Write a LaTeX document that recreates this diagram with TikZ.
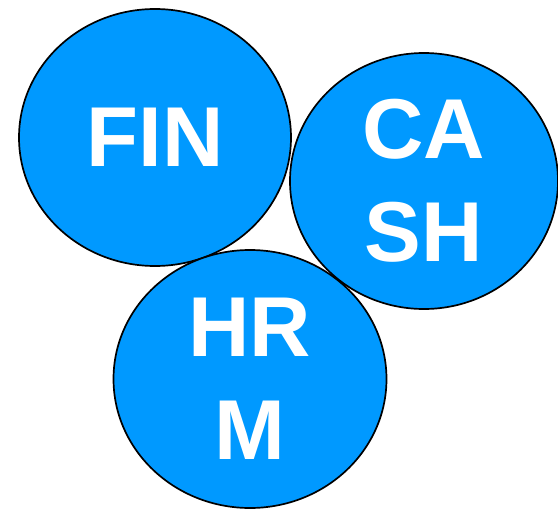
\documentclass[tikz,border=0pt]{standalone}
\usepackage{fontspec}
\setmainfont{Liberation Sans}
\usetikzlibrary{shapes.geometric}
\definecolor{unitblue}{RGB}{0,153,255}
\tikzset{
	unit/.style={draw=black, line width=1.7pt, fill=unitblue, ellipse, inner sep=0pt,
		text=white, align=center, font=\bfseries\fontsize{85}{103}\selectfont}
}
\begin{document}
\begin{tikzpicture}[x=1pt,y=-1pt]
		\useasboundingbox (0,0) rectangle (558,509);
		\node [unit, minimum width=272pt, minimum height=257pt] (FIN) at (155,137.5) {FIN};
		\node [unit, minimum width=268pt, minimum height=256pt] (CASH) at (424,181) {CA\\SH};
		\node [unit, minimum width=273pt, minimum height=258pt] (HRM) at (250,379) {HR\\M};
	\end{tikzpicture}
\end{document}
